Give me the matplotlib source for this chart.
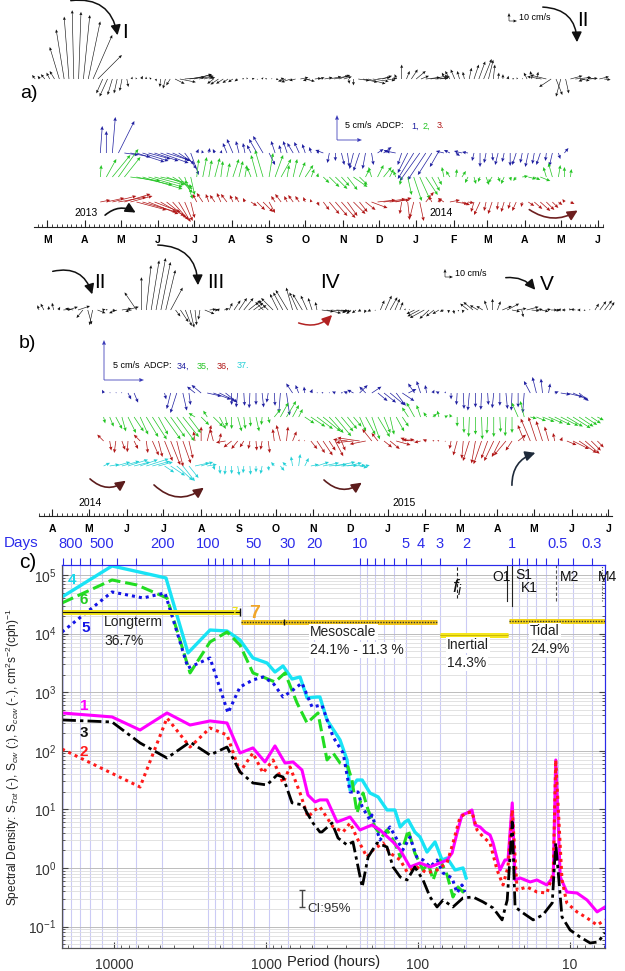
import datetime as dt
import numpy as np
import matplotlib
matplotlib.use("Agg")
import matplotlib.pyplot as plt
import matplotlib.dates as mdates
from matplotlib.patches import FancyArrowPatch
from matplotlib import font_manager
from matplotlib.ticker import (FuncFormatter, FixedLocator, NullLocator, NullFormatter)

plt.rcParams['font.family'] = ['Liberation Sans', 'DejaVu Sans']
plt.rcParams['mathtext.fontset'] = 'custom'
plt.rcParams['mathtext.rm'] = 'Liberation Sans'
plt.rcParams['mathtext.it'] = 'Liberation Sans:italic'
plt.rcParams['mathtext.bf'] = 'Liberation Sans:bold'

try:
    font_manager.findfont('Liberation Sans Narrow', fallback_to_default=False)
    HAVE_NARROW = True
except Exception:
    HAVE_NARROW = False

# ======================= DATA =======================
# time axes of the two stick-plot panels
a_axis_start, a_axis_end = dt.datetime(2013, 2, 18), dt.datetime(2014, 6, 5)
b_axis_start, b_axis_end = dt.datetime(2014, 3, 21), dt.datetime(2015, 7, 4)

# surface current sticks (black), cm/s (u east, v north), every 4 days
blk_a_start = dt.datetime(2013, 2, 19)
blk_a = [(-4, 5), (-3, 4), (-5, 6), (-4, 8), (-6, 10),
         (-12, 40), (-10, 62), (-6, 78), (-2, 86), (3, 84), (8, 80), (15, 72), (24, 55), (30, 30),
         (-8, -18), (-10, -22), (-6, -20), (-4, -18), (-3, -15), (2, -10),
         (1, 3), (-1, 2), (2, 4), (0, 3), (-2, 2), (1, -3),
         (-1, -10), (-3, -12), (-5, -8),
         (12, -6), (20, -4), (25, 2), (28, 5), (22, 6), (18, 4), (12, 3), (8, 2),
         (-8, -6), (-10, -7), (-9, -6), (-7, -5), (-6, -4), (-4, -3),
         (2, 1), (-1, 2), (3, 1), (1, -1), (2, 2), (-2, 1), (1, 1), (3, -1), (4, 1),
         (-10, -3), (-12, -4), (-8, -2), (10, 2), (12, -3), (-9, -2), (8, 1), (6, 2),
         (10, 2), (15, 3), (18, 4), (14, 5), (10, 3),
         (1, -6), (0, -8),
         (14, -2), (18, -4), (22, -6), (20, -3), (16, 2), (12, 4), (10, -2), (6, 1),
         (-3, 6), (0, 18), (4, 10), (8, 12), (12, 10), (10, 4),
         (18, 2), (22, 4), (16, 1), (12, 3), (-4, 8),
         (-6, 10), (-5, 12), (-3, 10), (-2, 9),
         (3, 14), (6, 18), (8, 22), (10, 25), (6, 24), (2, 18),
         (1, 8), (0, 6), (1, 4),
         (2, 1), (-1, 2), (1, 1),
         (-4, 8), (-2, 10), (2, 9),
         (-18, 3), (-20, 5), (-15, -10), (8, -20), (-6, -22), (4, -18), (15, 4), (20, 2),
         (12, -2), (-8, -3), (10, 1), (-10, 2), (12, 3), (8, -1)]

blk_b_start = dt.datetime(2014, 3, 21)
blk_b = [(-2, 6), (-4, 8), (0, 5), (-2, 9), (2, 4),
         (10, 1), (12, 4), (-10, 2), (15, 5), (-8, -10), (5, -18), (-4, -19), (10, -4),
         (4, 1), (-2, 1), (5, -1),
         (-10, -4), (12, 2), (15, 4), (-8, -2),
         (-15, 22), (0, 41), (6, 56), (10, 62), (12, 65), (12, 60), (12, 50), (15, 28),
         (6, -8), (10, -15), (8, -20), (5, -22), (2, -19), (-2, -12), (12, -5),
         (8, 1), (5, 0), (-4, 1), (6, 2),
         (4, 9), (8, 12), (10, 15), (12, 15), (15, 12), (12, 9), (10, 6),
         (-10, 10), (-12, 12), (-15, 15), (-10, 20), (-12, 22), (-15, 25), (-8, 28), (-10, 22),
         (-12, 20), (-8, 18), (-5, 15), (-2, 10),
         (15, -2), (18, -4), (19, -2), (15, -1), (12, -2),
         (-5, -4), (-6, -5), (-5, -4), (-4, -2), (-2, -4), (-4, -2), (-1, -1),
         (5, 12), (8, 18), (9, 16), (6, 14), (4, 10),
         (1, 2), (-1, 1),
         (-10, -5), (-15, -8), (-18, -10), (-12, -11), (-10, -8), (-8, -5), (-5, -2),
         (0, -4), (1, -5), (0, -2), (-1, -4),
         (-10, 8), (-12, 10), (-10, 6), (-8, 5),
         (-4, 12), (0, 14), (4, 11),
         (12, 5), (15, 8), (10, -2), (12, 2), (2, -9), (15, 4),
         (10, -1), (8, 1), (9, -2), (6, 1), (8, 0), (5, -1),
         (-4, 1), (-5, 0), (-2, 2), (-6, 1), (-4, 0), (-2, -1), (-1, 1),
         (5, 8), (8, 11), (9, 12), (6, 10)]

# ADCP sticks panel a), mm/s, every 5 days
adcp_a_start = dt.datetime(2013, 4, 14)
adcp1 = [(4, 54), (0, 44), (6, 72), (32, 64), (28, -4), (40, -8), (56, -18), (52, -16), (44, -12),
         (48, -16), (56, -20), (44, -14), (36, -16), (32, -22), (24, -32), (16, -44), (4, 8), (-2, 6),
         (2, 10), (-4, 8), (2, 6), (-8, 20), (-12, 28), (-6, 24), (-4, 20), (-8, 16), (-16, 28),
         (-20, 34), (12, -24), (-8, 24), (-4, 16), (-8, 24), (-12, 20), (-10, 22), (-6, 18), (-4, 12),
         (4, 4), (-16, 6), (-4, -20), (0, -16), (6, -24), (4, -28), (-8, -32), (-12, -36), (-6, -32),
         (4, -24), (12, 8), (16, 12), (-12, 6), (-20, 4), (-8, -24), (-20, -40), (-32, -52),
         (-40, -56), (-36, -54), (-28, -44), (-16, -28), (-16, 4), (-12, 6), (8, -6), (-16, 4),
         (-12, 2), (-4, -16), (0, -28), (-4, -20), (2, -16), (-6, -24), (-4, -18), (0, -26),
         (-8, -24), (-4, -20), (-6, -28), (-4, -22), (-8, -24), (-2, -16), (-6, -26), (4, -12), (8, 10)]
adcp2 = [(2, 24), (20, 36), (36, 44), (40, 56), (32, 40), (60, -8), (72, -16), (80, -24), (68, -20),
         (60, -16), (56, -12), (52, -20), (40, -24), (28, -32), (16, -44), (8, -36), (4, 36), (8, 40),
         (6, 34), (10, 38), (4, 32), (6, 28), (12, 36), (8, 32), (4, 24), (-8, 20), (-12, 44),
         (-16, 54), (8, 48), (16, 44), (20, 36), (4, 24), (8, 36), (12, 30), (16, 24), (6, 16), (2, 8),
         (12, -12), (20, -20), (24, -24), (16, -18), (20, -26), (28, -20), (16, -16), (8, 16),
         (-6, 20), (12, 24), (16, 20), (8, 16), (-4, 12), (-4, -16), (8, -36), (16, -48), (20, -44),
         (24, -36), (16, -28), (8, -16), (-4, 20), (-8, 12), (2, 16), (8, 12), (-6, -12), (4, -14),
         (-4, -10), (6, -16), (-8, -12), (4, -10), (-6, -14), (2, -8), (-6, -8), (12, 2), (16, -4),
         (12, -6), (20, -8), (-6, 20), (-8, 28), (4, 24), (0, 20), (2, 16)]
adcp3 = [(20, 4), (36, 8), (48, 12), (56, 10), (52, 16), (44, 12), (60, -16), (68, -20), (60, -24),
         (52, -20), (48, -28), (40, -32), (32, -36), (24, -40), (16, -38), (8, -32), (-8, 16),
         (-12, 18), (-6, 16), (-10, 14), (-8, 18), (-12, 16), (-6, 14), (-8, 12), (-4, 8), (12, -8),
         (16, -16), (20, -20), (12, -22), (-8, 12), (-12, 16), (-6, 12), (-10, 14), (-8, 12), (-4, 10),
         (-2, 6), (4, -8), (12, -16), (20, -24), (24, -28), (28, -32), (20, -28), (24, -24), (16, -20),
         (20, -16), (32, -12), (36, 4), (44, 6), (40, 4), (32, 8), (-4, -24), (4, -36), (-8, -32),
         (8, -38), (16, 20), (-6, 12), (8, 6), (-12, 8), (20, 4), (24, -4), (16, -6), (12, -2),
         (-6, -20), (-12, -26), (-4, -18), (-8, -24), (-2, -16), (-6, -20), (-4, -14), (-8, -18),
         (-2, -10), (12, -8), (16, -14), (20, -18), (16, -16), (12, -12), (8, -6), (-4, 6), (8, -4)]

# ADCP sticks panel b), mm/s, every 5 days (nan = no data)
adcp_b_start = dt.datetime(2014, 5, 13)
nan = np.nan
adcp34 = [(-2, 4), (1, 1), (1, 1), (-1, 1), (4, -8), (5, -12), (nan, nan), (nan, nan), (nan, nan),
          (nan, nan), (2, -8), (-5, -20), (-8, -25), (5, -22), (2, -15), (-10, 8), (-12, 10), (18, -4),
          (22, -8), (20, -10), (15, -12), (0, -15), (-2, -18), (1, -16), (-1, -19), (0, -15), (2, -18),
          (-2, -12), (1, -16), (-2, -25), (4, -28), (-8, 12), (-4, 10), (-1, 8), (2, 5), (1, 1), (-2, 1),
          (1, 1), (-4, 2), (2, 1), (-5, 2), (-8, 4), (10, 10), (-8, 8), (12, 8), (12, -10), (15, -12),
          (18, -15), (12, -16), (15, -10), (10, 5), (-8, 12), (-5, 15), (-2, 10), (2, 4), (-4, 2),
          (1, 2), (0, -8), (-1, -15), (1, -20), (-2, -22), (0, -18), (-1, -21), (1, -15), (-2, -19),
          (0, -16), (2, -20), (-1, -22), (0, -18), (-2, -25), (-8, 15), (-5, 20), (-2, 18), (2, 12),
          (5, 2), (12, -2), (20, -5), (18, -8), (12, -10)]
adcp35 = [(2, -8), (5, -12), (8, -15), (5, -18), (10, -20), (12, -18), (10, -22), (15, -25), (18, -28),
          (12, -22), (20, -28), (18, -25), (22, -30), (20, -25), (15, -20), (-8, 5), (10, -10), (-5, 8),
          (12, -12), (8, -15), (2, -12), (0, -15), (5, -18), (2, -15), (1, -12), (4, -18), (-1, -10),
          (2, -8), (8, 10), (10, 18), (12, 20), (8, 15), (5, 10), (12, -8), (18, -12), (20, -15),
          (22, -18), (18, -20), (20, -24), (15, -18), (12, -15), (10, -12), (8, -18), (12, -22),
          (10, -28), (15, -25), (8, -20), (5, -22), (10, -18), (8, -12), (-8, 12), (-10, 18), (-5, 15),
          (-4, 6), (5, 4), (-2, 8), (4, 2), (-2, 4), (0, -12), (1, -20), (-1, -25), (0, -22), (1, -28),
          (-1, -21), (0, -25), (1, -19), (-1, -24), (0, -20), (-8, 18), (-5, 20), (8, -2), (12, -5),
          (15, -6), (18, -8), (20, -10), (22, -11), (20, -12), (22, -14), (18, -12), (15, -10),
          (12, -8), (8, -4)]
adcp36 = [(-8, 8), (2, -12), (-2, -15), (4, -11), (-1, -14), (5, -10), (-8, 8), (2, -15), (8, -18),
          (5, -20), (10, -25), (12, -30), (8, -32), (10, -28), (5, -22), (-2, 12), (0, 18), (5, 20),
          (-4, 15), (2, 10), (-12, -2), (-10, -8), (-8, -10), (-5, -8), (-2, -10), (1, -12), (-2, -11),
          (2, -15), (-2, 15), (-5, 20), (2, 18), (5, 12), (1, 2), (-1, 1), (8, -10), (10, -15),
          (12, -18), (8, -12), (10, -19), (5, -12), (-18, 2), (-22, -2), (-28, 4), (-20, -4),
          (-12, 15), (-8, 10), (10, -8), (12, -10), (18, -5), (15, 2), (-10, 4), (-15, 2), (-8, -2),
          (-5, 2), (2, 1), (-2, 1), (1, -1), (-2, -10), (-5, -18), (-2, -22), (-8, -25), (-5, -28),
          (-10, -29), (-8, -22), (-12, -25), (-10, -20), (-15, -18), (-8, -12), (10, 8), (-8, 20),
          (-12, 28), (-10, 30), (-8, 25), (-5, 18), (-2, 10), (2, 5), (12, -5), (20, -10), (22, -15),
          (18, -16), (12, -12), (8, -8)]
adcp37 = [(8, 4), (12, 2), (18, 5), (22, 6), (25, 8), (20, 5), (22, 8), (28, 9), (22, 6), (18, 5),
          (12, -8), (18, -12), (20, -18), (15, -19), (12, -15), (18, 4), (15, 5), (12, 2), (2, -5),
          (1, -10), (-1, -11), (0, -10), (2, -12), (-1, -9), (1, -11), (0, -8), (-2, -10), (1, -6),
          (-4, 5), (5, -6), (-5, 5), (-2, 12), (2, 15), (5, 10), (10, 2), (15, 5), (20, 4), (22, 2),
          (25, 5), (20, 1), (18, 4), (15, 1), (10, -2), (5, 1)]

# ---- spectra: period (hours) and spectral density ----
p1 = [21980, 10300, 6740, 4480, 3160, 2335, 1805, 1483, 1219, 1016, 873, 750, 664, 580, 530, 476,
      442, 397, 341, 280, 241, 201, 178, 146, 131, 113, 97, 83.4, 71.6, 64.4, 59.7, 55.4, 51.4,
      47.6, 44.2, 42.2, 39.1, 36.2, 33.6, 32.1, 28.9, 26.8, 25.6, 24.0, 23.0, 21.3, 18.3, 16.5,
      14.2, 12.9, 12.42, 11.6, 10.5, 9.0, 7.73, 6.64, 5.89]
s1 = [442, 378, 226, 442, 275, 323, 298, 91.6, 112, 64.4, 121, 61.9, 64.4, 47.0, 17.6, 13.4,
      14.5, 14.5, 6.10, 7.42, 4.45, 5.42, 4.45, 2.78, 2.03, 1.04, 1.22, 1.04, 1.22, 1.37, 1.80,
      3.96, 8.02, 8.68, 9.77, 5.42, 5.01, 4.11, 3.66, 2.67, 0.924, 1.37, 1.37, 12.9, 0.624, 0.675,
      0.577, 0.624, 0.513, 0.702, 69.7, 0.702, 0.389, 0.374, 0.284, 0.178, 0.216]
p2 = [21980, 6740, 4480, 3160, 2335, 1805, 1483, 1219, 1047, 899, 773, 695, 597, 530, 476, 442,
      362, 311, 280, 248, 217, 198, 170, 153, 131, 118, 102, 87.3, 75.0, 64.4, 58.9, 52.9, 47.6,
      44.2, 40.9, 37.3, 33.6, 30.2, 27.6, 25.6, 24.0, 22.3, 19.2, 16.5, 14.2, 12.9, 12.42, 11.3,
      10.5, 9.0, 7.73, 6.64, 5.89]
s2 = [107, 24.1, 363, 116, 245, 186, 43.5, 91.6, 41.8, 69.7, 28.2, 52.9, 19.0, 7.42, 9.77, 11.0,
      5.01, 4.11, 5.86, 3.00, 1.54, 2.03, 2.67, 1.80, 1.37, 0.855, 1.04, 0.822, 0.924, 1.22, 2.67,
      7.42, 8.68, 9.03, 4.45, 3.38, 2.67, 0.924, 0.513, 1.04, 9.77, 0.421, 0.474, 0.389, 0.374,
      0.822, 69.7, 0.624, 0.253, 0.178, 0.140, 0.106, 0.130]
p3 = [21980, 10300, 6740, 4480, 3160, 2335, 1805, 1483, 1219, 985, 847, 773, 674, 571, 537, 491,
      442, 429, 368, 336, 293, 268, 233, 213, 186, 160, 146, 131, 118, 105, 92.7, 83.4, 75.0, 68.5,
      58.9, 50.6, 43.5, 37.3, 32.1, 28.0, 25.9, 24.0, 23.0, 20.4, 17.5, 15.1, 13.1, 12.42, 11.3,
      10.0, 8.6, 7.38, 6.54, 5.89]
s3 = [336, 310, 136, 75.3, 141, 84.7, 116, 43.5, 28.2, 26.1, 38.6, 35.7, 12.9, 11.9, 8.68, 5.86,
      4.11, 4.11, 5.86, 3.25, 2.47, 2.78, 0.474, 1.54, 2.67, 2.28, 1.04, 0.702, 0.624, 1.04, 0.624,
      0.320, 0.216, 0.284, 0.216, 0.308, 0.320, 0.263, 0.208, 0.130, 0.284, 6.10, 0.216, 0.171,
      0.130, 0.158, 0.253, 2.67, 0.146, 0.0875, 0.0665, 0.0525, 0.0546, 0.0778]
p4 = [21980, 10300, 4550, 3260, 2335, 1805, 1483, 1219, 985, 873, 773, 674, 597, 537, 462, 442,
      397, 326, 293, 280, 252, 233, 207, 183, 160, 142, 131, 122, 116, 105, 97, 87.3, 77.3, 69.5,
      64.4, 57.1, 50.6, 48.3]
s4 = [42100, 142500, 88900, 4670, 11500, 11070, 7780, 3830, 3150, 2210, 2800, 1680, 1817, 796,
      828, 828, 336, 153, 69.7, 21.4, 31.7, 31.7, 19.0, 16.3, 9.77, 9.77, 5.01, 6.10, 6.59, 4.11,
      3.38, 1.87, 2.78, 1.37, 1.48, 0.924, 1.0, 0.675]
p5 = [21980, 10300, 6440, 4620, 3260, 2335, 1778, 1483, 1219, 1047, 899, 773, 664, 580, 498, 429,
      362, 311, 280, 248, 233, 207, 201, 178, 153, 137, 126, 113, 102, 92.7, 83.4, 75.0, 68.5,
      59.7, 55.4, 51.4, 49.1]
s5 = [10640, 51300, 40500, 49300, 2590, 3830, 442, 1227, 1616, 1817, 1436, 828, 1091, 1436, 559,
      605, 172, 91.6, 19.8, 19.8, 11.0, 6.59, 8.02, 3.00, 5.01, 3.00, 2.03, 3.38, 1.54, 1.37, 1.04,
      1.37, 0.822, 0.675, 0.374, 0.513, 0.389]
p6 = [21980, 10300, 7060, 4480, 3160, 2335, 1805, 1483, 1219, 1047, 873, 750, 625, 537, 455, 397,
      362, 326, 289, 272, 252, 230, 213, 192, 173, 160, 142, 131, 116, 105, 92.7, 85.9, 79.6, 71.6,
      64.4, 58.9, 54.6, 50.6, 48.3]
s6 = [33300, 82200, 67500, 40500, 2130, 7190, 10640, 6380, 2130, 1817, 1493, 2130, 654, 298, 442,
      69.7, 91.6, 61.9, 52.9, 31.7, 8.68, 19.0, 9.77, 5.01, 3.38, 4.45, 2.67, 1.54, 4.45, 1.80,
      0.924, 1.22, 0.624, 1.37, 0.760, 0.320, 0.474, 0.389, 0.513]

# frequency bands
band_names = ['Longterm', 'Mesoscale', 'Inertial', 'Tidal']
band_pct = ['36.7%', '24.1% - 11.3 %', '14.3%', '24.9%']
band_from_h = [21980, 1460, 71.6, 25.3]
band_to_h = [1483, 75.0, 25.6, 5.89]
band_level = [23400, 15800, 9460, 16400]

# tidal / inertial periods (hours)
const_names = ['O1', 'K1', 'M2', 'M4']
const_period = [25.82, 23.93, 12.42, 6.21]
inertial_period = 55.4

day_ticks = [900, 800, 700, 600, 500, 400, 300, 200, 100, 90, 80, 70, 60, 50, 40, 30, 20, 10,
             9, 8, 7, 6, 5, 4, 3, 2, 1, 0.9, 0.8, 0.7, 0.6, 0.5, 0.4, 0.3]
day_labeled = [800, 500, 200, 100, 50, 30, 20, 10, 5, 4, 3, 2, 1, 0.5, 0.3]
period_ticks = [10, 100, 1000, 10000]
density_ticks = [0.1, 1, 10, 100, 1000, 10000, 100000]

# ======================= FIGURE =======================
W, H = 625, 971
fig = plt.figure(figsize=(W / 100, H / 100), dpi=100)


def rect(x0, y0, x1, y1):
    return [x0 / W, 1 - y1 / H, (x1 - x0) / W, (y1 - y0) / H]


BLUE_A = '#1f1fa0'
GREEN = '#22c422'
DRED = '#b01515'
CYAN = '#22cfd6'
NARROW = ['Liberation Sans Narrow', 'Liberation Sans', 'DejaVu Sans']


def time_axis(ax, start, end, height):
    ax.set_xlim(mdates.date2num(start), mdates.date2num(end))
    ax.set_ylim(0, height)
    for s in ['top', 'left', 'right']:
        ax.spines[s].set_visible(False)
    ax.spines['bottom'].set_linewidth(0.8)
    ax.spines['bottom'].set_color('#222')
    ax.set_yticks([])
    ax.patch.set_alpha(0)
    ax.xaxis.set_major_locator(mdates.MonthLocator())
    ax.xaxis.set_minor_locator(mdates.DayLocator(bymonthday=[5, 9, 13, 17, 21, 25, 29]))
    ax.xaxis.set_major_formatter(
        FuncFormatter(lambda v, p: mdates.num2date(v).strftime('%b')[0]))
    ax.tick_params(axis='x', which='major', direction='in', length=5, width=0.8,
                   labelsize=7.5, pad=6, color='#222')
    ax.tick_params(axis='x', which='minor', direction='in', length=2.5, width=0.6, color='#222')
    for lab in ax.get_xticklabels():
        lab.set_fontweight('bold')


def sticks(ax, start, step_days, vecs, base, color, px_per_unit, lw=0.7):
    arr = np.ma.masked_invalid(np.asarray(vecs, dtype=float))
    n = arr.shape[0]
    t = mdates.date2num(start) + step_days * np.arange(n)
    ax.quiver(t, np.full(n, base), arr[:, 0], arr[:, 1], color=color, angles='uv',
              scale_units='dots', scale=1.0 / px_per_unit, units='dots', width=lw,
              headwidth=5, headlength=5.5, headaxislength=5, pivot='tail',
              clip_on=False, zorder=3)


# ---------------- panel a ----------------
ax_a = fig.add_axes(rect(34, 0, 603, 227))
time_axis(ax_a, a_axis_start, a_axis_end, 227)
sticks(ax_a, blk_a_start, 4, blk_a, 148, '#111111', 0.8, lw=0.6)
sticks(ax_a, adcp_a_start, 5, adcp1, 74, BLUE_A, 0.5)
sticks(ax_a, adcp_a_start, 5, adcp2, 50, GREEN, 0.5)
sticks(ax_a, adcp_a_start, 5, adcp3, 25, DRED, 0.5)

# ---------------- panel b ----------------
ax_b = fig.add_axes(rect(39, 255, 612, 516))
time_axis(ax_b, b_axis_start, b_axis_end, 261)
sticks(ax_b, blk_b_start, 4, blk_b, 206, '#111111', 0.8, lw=0.6)
sticks(ax_b, adcp_b_start, 5, adcp34, 123, BLUE_A, 0.8)
sticks(ax_b, adcp_b_start, 5, adcp35, 99, GREEN, 0.8)
sticks(ax_b, adcp_b_start, 5, adcp36, 75, DRED, 0.8)
sticks(ax_b, adcp_b_start, 5, adcp37, 50, CYAN, 0.8)

# ---------------- panel c ----------------
BLUE = '#2b2bea'
YLO, YHI = 0.0431, 1.48e5
XLO, XHI = 21980, 5.89
axc = fig.add_axes(rect(62, 565, 605, 948))
axc.set_xscale('log')
axc.set_yscale('log')
axc.set_xlim(XLO, XHI)
axc.set_ylim(YLO, YHI)
axc.set_axisbelow(True)
ymin_ticks = [k * 10.0 ** e for e in range(-2, 6) for k in range(2, 10)
              if YLO <= k * 10.0 ** e <= YHI]
xmin_ticks = [k * 10.0 ** e for e in range(0, 5) for k in range(2, 10)
              if XHI <= k * 10.0 ** e <= XLO]
axc.yaxis.set_major_locator(FixedLocator(density_ticks))
axc.yaxis.set_minor_locator(FixedLocator(ymin_ticks))
axc.yaxis.set_minor_formatter(NullFormatter())
axc.grid(True, which='major', axis='y', color='#bcbcbc', lw=0.7)
axc.grid(True, which='minor', axis='y', color='#dddddd', lw=0.6)
for d in day_ticks:
    axc.axvline(24 * d, color='#cbcbf5', lw=0.8, zorder=0)
axc.xaxis.set_major_locator(FixedLocator(period_ticks))
axc.xaxis.set_major_formatter(FuncFormatter(lambda v, p: f'{v:g}'))
axc.xaxis.set_minor_locator(FixedLocator(xmin_ticks))
axc.xaxis.set_minor_formatter(NullFormatter())
axc.tick_params(axis='both', which='both', direction='in', color='#444', labelcolor='#333',
                labelsize=10)
axc.tick_params(axis='y', which='both', right=True, pad=4)
axc.tick_params(axis='x', which='major', pad=7)
axc.tick_params(which='major', length=4)
axc.tick_params(which='minor', length=2)

axt = axc.twiny()
axt.set_xscale('log')
axt.set_xlim(XLO / 24, XHI / 24)
axt.xaxis.set_major_locator(FixedLocator(day_ticks))
axt.xaxis.set_minor_locator(NullLocator())
axt.xaxis.set_major_formatter(FuncFormatter(
    lambda v, p: f'{v:g}' if np.any(np.isclose(v, day_labeled)) else ''))
axt.tick_params(axis='x', which='major', direction='out', length=5, color=BLUE,
                labelcolor=BLUE, labelsize=10.5, pad=5)
axt.yaxis.set_visible(False)
for a in (axc, axt):
    a.spines['top'].set_color(BLUE)
    a.spines['right'].set_color(BLUE)
    a.spines['left'].set_color('#555')
    a.spines['bottom'].set_color('#555')

# spectra
axc.plot(p4, s4, color='#19e3f5', lw=2.4, zorder=3)
axc.plot(p6, s6, color='#22dd22', lw=2.2, ls=(0, (4, 1.6)), zorder=3)
axc.plot(p5, s5, color='#1414e6', lw=2.2, ls=(0, (1, 1.3)), zorder=3)
axc.plot(p1, s1, color='#ff00ff', lw=2.2, zorder=4)
axc.plot(p2, s2, color='#ff1a1a', lw=2.2, ls=(0, (1, 1.3)), zorder=5)
axc.plot(p3, s3, color='#000000', lw=2.0, ls=(0, (5, 1.5, 1.2, 1.5)), zorder=6)

# bands
styles = [dict(color='#111', lw=0.8, ls='-'), dict(color='#333', lw=1.0, ls=(0, (1, 1))),
          dict(color='#b9a800', lw=0.5, ls='-'), dict(color='#333', lw=1.0, ls=(0, (1, 1)))]
band_col = ['#efe21a', '#f0c419', '#f5e61c', '#f0d21a']
for f0, f1, lev, bc, st in zip(band_from_h, band_to_h, band_level, band_col, styles):
    axc.plot([f0, f1], [lev, lev], color=bc, lw=3.6, solid_capstyle='butt', zorder=7)
    axc.plot([f0, f1], [lev, lev], zorder=8, **st)
axc.plot([band_to_h[0]], [band_level[0]], marker='|', color='#111', ms=6, zorder=8)
axc.plot([762], [band_level[1]], marker='|', color='#111', ms=5, zorder=8)

# constituent markers
axc.plot([inertial_period] * 2, [40500, YHI], color='#222', lw=0.8, ls=(0, (3, 2)), zorder=6)
axc.plot([const_period[0]] * 2, [36000, YHI], color='#222', lw=0.8, zorder=6)
axc.plot([const_period[1]] * 2, [30000, YHI], color='#222', lw=0.8, zorder=6)
axc.plot([const_period[2]] * 2, [36000, YHI], color='#555', lw=0.8, ls=(0, (3, 2)), zorder=6)
axc.plot([const_period[3]] * 2, [36000, YHI], color='#555', lw=0.8, ls=(0, (1, 1.5)), zorder=6)

# confidence interval
axc.errorbar([580], [0.3], yerr=[[0.084], [0.121]], color='#444', capsize=2.5, lw=1.0,
             capthick=1.0, zorder=6)

# ---------------- overlay for annotations ----------------
ov = fig.add_axes([0, 0, 1, 1], zorder=10)
ov.set_xlim(0, W)
ov.set_ylim(H, 0)
ov.set_axis_off()


def T(x, y, s, **kw):
    kw.setdefault('va', 'center')
    kw.setdefault('ha', 'left')
    ov.text(x, y, s, **kw)


def arc(p0, p1, rad, color='#111', lw=1.1):
    ov.add_patch(FancyArrowPatch(p0, p1, connectionstyle=f'arc3,rad={rad}',
                                 arrowstyle='-|>,head_length=0.6,head_width=0.3',
                                 mutation_scale=10, color=color, lw=lw))


def scale_bar(x, y, length_units, px_per_unit, color, lw=0.8):
    ov.quiver([x, x], [y, y], [0, length_units], [length_units, 0], color=color,
              angles='uv', scale_units='dots', scale=1.0 / px_per_unit, units='dots',
              width=lw, headwidth=5, headlength=6, headaxislength=5.5, pivot='tail')


# top black panel
T(122, 32, 'I', fontsize=15, family=NARROW)
T(577, 21, 'II', fontsize=15, family=NARROW)
arc((68, 1), (118, 38), -0.5)
arc((540, 7), (577, 45), -0.5)
scale_bar(509, 21, 10, 0.8, '#111', lw=0.6)
T(519, 17, '10 cm/s', fontsize=6.5)

# panel a)
T(20, 94, 'a)', fontsize=14)
scale_bar(337, 140, 50, 0.5, '#3a3ab8', lw=0.8)
T(345, 126, '5 cm/s  ADCP:', fontsize=6.5)
T(411, 126, '1,', fontsize=6.5, color=BLUE_A)
T(423, 126, '2,', fontsize=6.5, color=GREEN)
T(437, 126, '3.', fontsize=6.5, color=DRED)
T(86, 213, '2013', fontsize=7.5, ha='center')
T(441, 213, '2014', fontsize=7.5, ha='center')
arc((103, 217), (138, 214), -0.4, lw=1.2)
arc((527, 208), (580, 209), 0.35, color='#6e1f1f', lw=1.2)

# top black of panel b
T(94, 282, 'II', fontsize=15, family=NARROW)
T(207, 282, 'III', fontsize=15, family=NARROW)
T(320, 282, 'IV', fontsize=15, family=NARROW)
T(540, 285, 'V', fontsize=15, family=NARROW)
arc((50, 272), (93, 297), -0.5)
arc((155, 245), (198, 288), -0.5)
arc((503, 278), (537, 292), -0.3)
arc((296, 322), (334, 313), 0.35, color='#b22222', lw=1.1)
scale_bar(445, 277, 10, 0.8, '#111', lw=0.6)
T(455, 273, '10 cm/s', fontsize=6.5)

# panel b)
T(19, 344, 'b)', fontsize=14)
scale_bar(104, 380, 50, 0.8, '#3a3ab8', lw=0.8)
T(113, 366, '5 cm/s  ADCP:', fontsize=6.5)
T(177, 366, '34,', fontsize=6.5, color=BLUE_A)
T(197, 366, '35,', fontsize=6.5, color=GREEN)
T(217, 366, '36,', fontsize=6.5, color=DRED)
T(237, 366, '37.', fontsize=6.5, color=CYAN)
T(90, 503, '2014', fontsize=7.5, ha='center')
T(404, 503, '2015', fontsize=7.5, ha='center')
arc((88, 477), (128, 479), 0.45, color='#5c1c1c', lw=1.2)
arc((152, 483), (206, 486), 0.45, color='#5c1c1c', lw=1.2)
arc((322, 478), (364, 481), 0.45, color='#5c1c1c', lw=1.2)
arc((512, 488), (538, 452), -0.4, color='#1e2a3a', lw=1.2)

# panel c)
T(19, 563, 'c)', fontsize=15)
T(4, 543, 'Days', fontsize=11, color=BLUE)
ylab = (r'Spectral Density: S$_{Tot}$ (-), S$_{cw}$ (:), S$_{ccw}$ (-.), '
        r'cm$^2$s$^{-2}$(cph)$^{-1}$')
if HAVE_NARROW:
    T(13, 757, ylab, fontsize=11, rotation=90, ha='center', color='#222', family=NARROW)
else:
    T(13, 757, ylab, fontsize=8.6, rotation=90, ha='center', color='#222')
T(334, 962, 'Period (hours)', fontsize=10.5, ha='center', color='#222')

bbox = dict(facecolor='white', edgecolor='none', pad=1.0)
T(104, 622, band_names[0], fontsize=10, color='#222')
T(104, 641, band_pct[0], fontsize=10, color='#222')
T(310, 632, band_names[1], fontsize=10, color='#222', bbox=bbox)
T(310, 650, band_pct[1], fontsize=10, color='#222', bbox=bbox)
T(447, 645, band_names[2], fontsize=10, color='#222', bbox=bbox)
T(447, 663, band_pct[2], fontsize=10, color='#222', bbox=bbox)
T(530, 631, band_names[3], fontsize=10, color='#222', bbox=bbox)
T(530, 649, band_pct[3], fontsize=10, color='#222', bbox=bbox)
T(231, 612, '7', fontsize=8, color='#efe21a', fontweight='bold')
T(249, 613, '7', fontsize=14, color='#f0a62a', fontweight='bold')

T(452, 587, r'$f_i$', fontsize=14, color='#111')
T(492, 577, 'O1', fontsize=10, color='#111')
T(515, 575, 'S1', fontsize=10, color='#111')
T(521, 588, 'K1', fontsize=10, color='#111')
T(560, 577, 'M2', fontsize=10, color='#111')
T(598, 577, 'M4', fontsize=10, color='#111')

T(68, 580, '4', fontsize=11, color='#19d8ea', fontweight='bold')
T(80, 600, '6', fontsize=11, color='#22cc22', fontweight='bold')
T(81, 628, '5', fontsize=11, color='#1414e6', fontweight='bold')
T(80, 706, '1', fontsize=11, color='#ff00ff', fontweight='bold')
T(80, 733, '3', fontsize=11, color='#111', fontweight='bold')
T(80, 752, '2', fontsize=11, color='#ff1a1a', fontweight='bold')
T(307, 909, 'CI:95%', fontsize=9.5, color='#333')

fig.savefig('out.png', dpi=100)
